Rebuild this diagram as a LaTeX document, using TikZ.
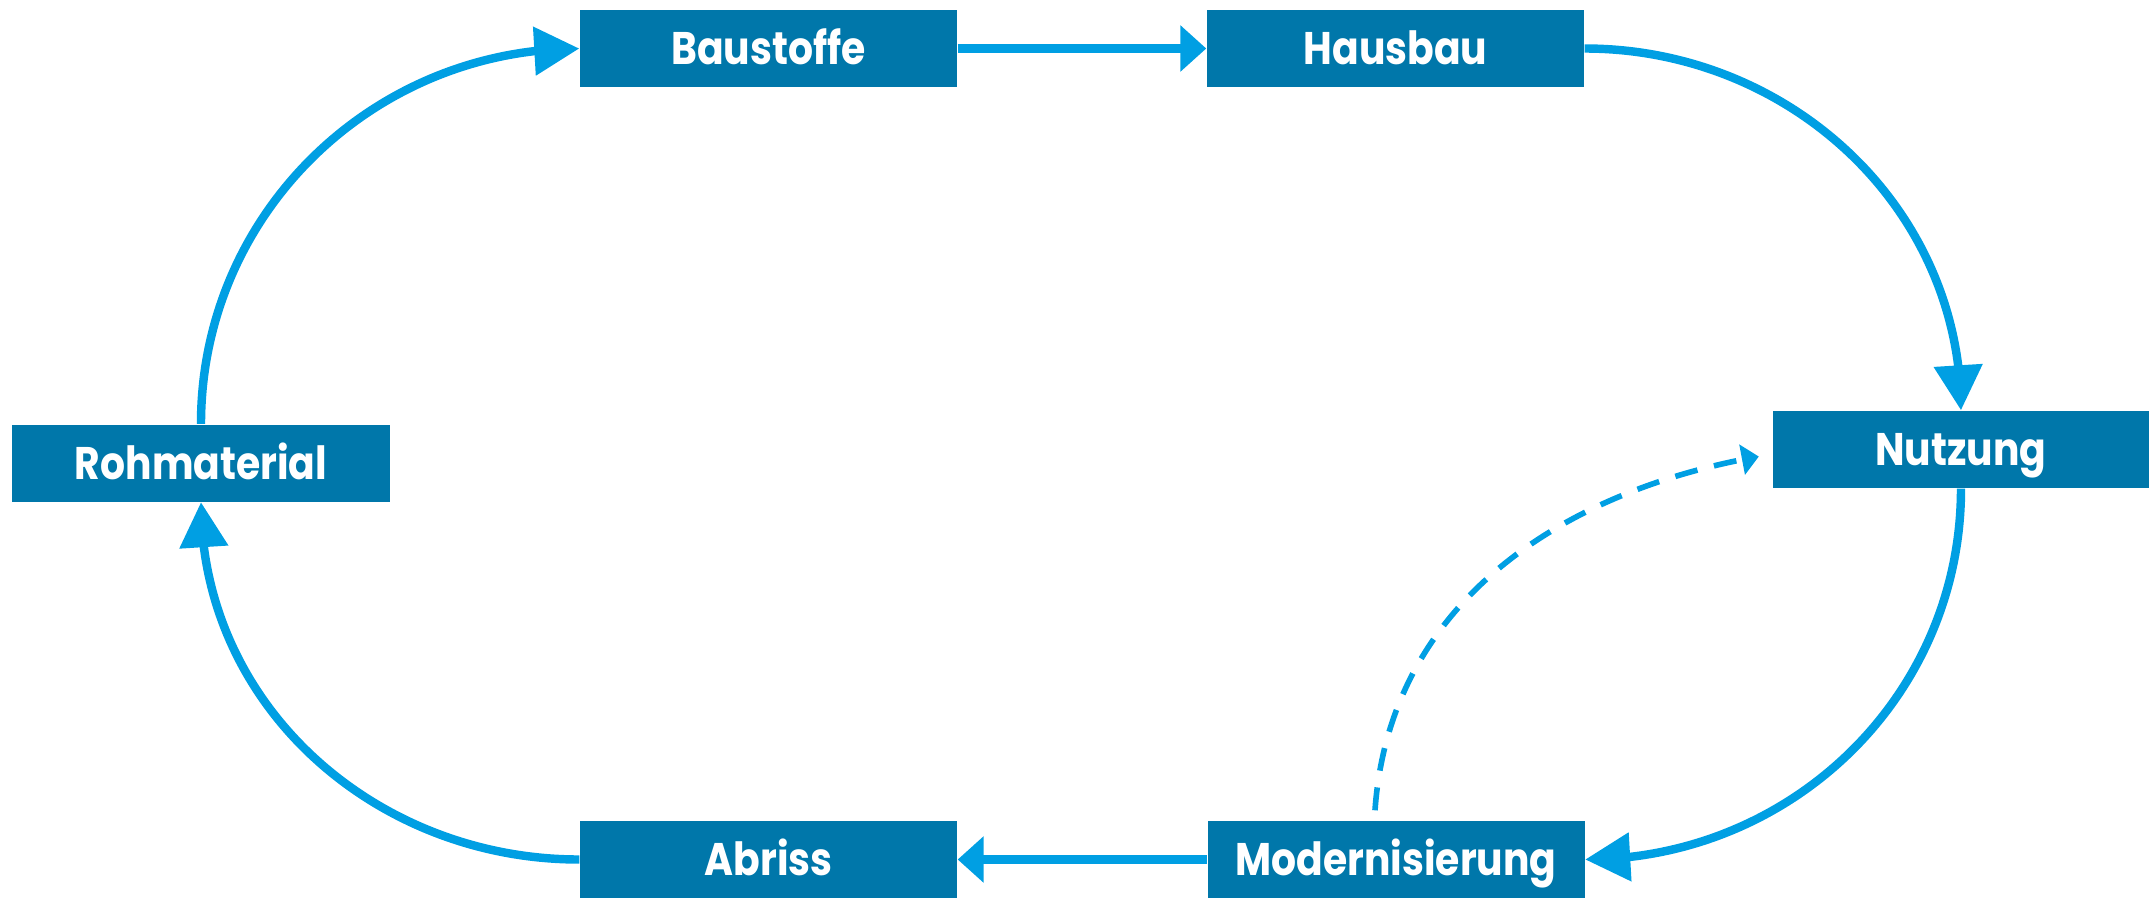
\documentclass[tikz,border=0pt]{standalone}
\usepackage{fontspec}
\newfontfamily\boxfont{Poppins}[FakeStretch=0.86]
\usetikzlibrary{arrows.meta, bending, calc}

\definecolor{boxblue}{RGB}{0,119,170}
\definecolor{flowblue}{RGB}{0,159,227}

\begin{document}
\begin{tikzpicture}[
  stage/.style={fill=boxblue, text=white, minimum width=3.77cm, minimum height=0.77cm,
    inner sep=0pt, text height=9.1pt, text depth=0pt,
    font=\boxfont\bfseries\fontsize{13}{15}\selectfont},
  flow/.style={draw=flowblue, line width=2.4pt, -{Triangle[length=4.5mm, width=4.7mm]}},
  flowshort/.style={flow, -{Triangle[length=2.6mm, width=4.5mm]}},
  reuse/.style={draw=flowblue, line width=1.6pt, dash pattern=on 2.3mm off 1.7mm,
    -{Triangle[length=1.7mm, width=3mm]}}
]
  \useasboundingbox (0,0) rectangle (21.49,-8.97);

  % stages of the cycle
  \node[stage] (roh)  at (2.01, -4.63)   {Rohmaterial};
  \node[stage] (bau)  at (7.685, -0.485) {Baustoffe};
  \node[stage] (haus) at (13.955, -0.485) {Hausbau};
  \node[stage] (nutz) at (19.61, -4.495) {Nutzung};
  \node[stage] (mod)  at (13.96, -8.595) {Modernisierung};
  \node[stage] (abr)  at (7.685, -8.595) {Abriss};

  % main loop
  \draw[flow] (roh.north) to[out=90, in=180] (bau.west);
  \draw[flowshort] (bau.east) -- (haus.west);
  \draw[flow] (haus.east) to[out=0, in=90] (nutz.north);
  \draw[flow] (nutz.south) to[out=-90, in=0] (mod.east);
  \draw[flowshort] (mod.west) -- (abr.east);
  \draw[flow] (abr.west) to[out=180, in=-90] (roh.south);

  % back to use after modernisation
  \coordinate (mstart) at ($(mod.north)+(-0.21,0.1)$);
  \coordinate (nend) at ($(nutz.west)+(-0.13,-0.07)$);
  \draw[reuse] (mstart) to[out=86, in=190] (nend);
\end{tikzpicture}
\end{document}
